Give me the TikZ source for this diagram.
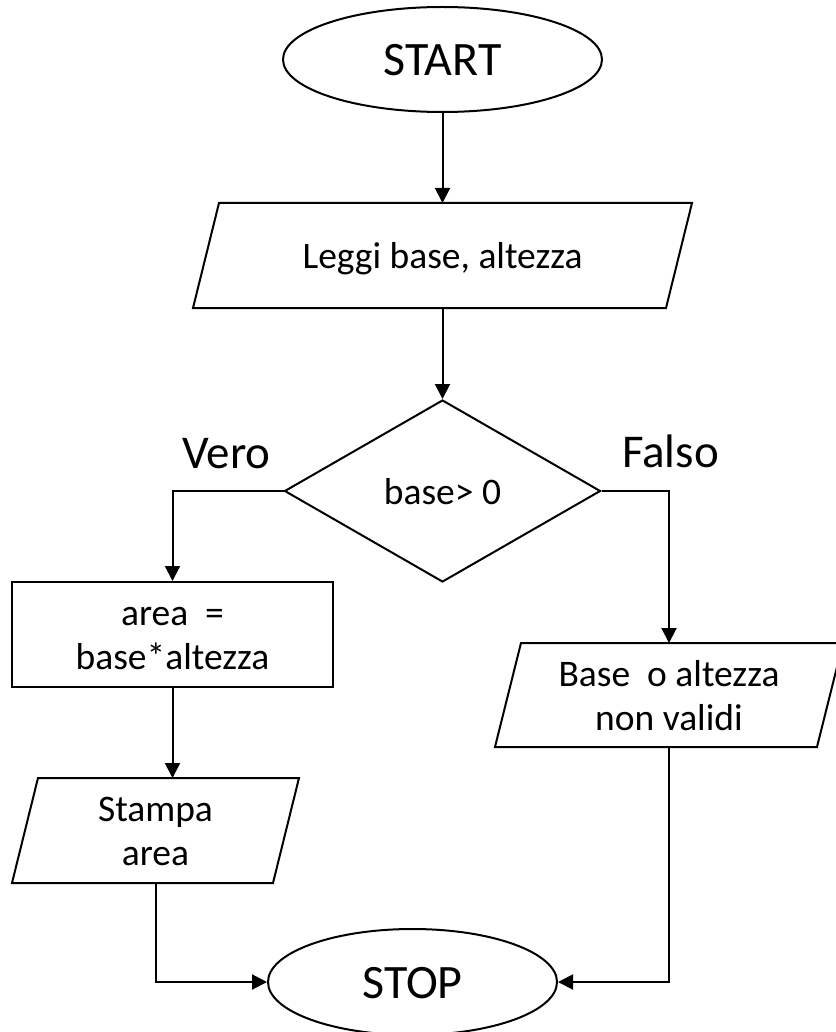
\documentclass[tikz,border=0pt]{standalone}
\usepackage{fontspec}
\setmainfont{Carlito}
\usetikzlibrary{shapes.geometric,arrows.meta}
\begin{document}
\begin{tikzpicture}[x=1pt,y=-1pt,
  lw/.style={line width=2pt},
  arr/.style={lw, -{Triangle[length=15pt,width=15pt]}},
  big/.style={font=\fontsize{48}{56}\selectfont, text height=33pt, text depth=0pt, inner sep=0pt},
  small/.style={font=\fontsize{37.5}{44}\selectfont, text height=26pt, text depth=0pt, inner sep=0pt, align=center},
  two/.style={text height=70pt, text depth=0pt},
  term/.style={big, ellipse, draw, lw},
  proc/.style={small, rectangle, draw, lw},
  decis/.style={small, diamond, draw, lw, aspect=1.736},
  io/.style={small, rectangle, outer sep=0pt},
  lbl/.style={font=\fontsize{47}{54}\selectfont, inner sep=0pt, anchor=base}
]
\useasboundingbox (0,0) rectangle (835,1032);

\node[term, minimum width=319pt, minimum height=105pt] (start) at (442.5,59.5) {START};
\node[io, minimum width=499pt, minimum height=105pt] (leggi) at (442.5,255.5) {Leggi base, altezza};
\node[decis, minimum width=316pt, minimum height=182pt] (cond) at (442.5,491) {base> 0};
\node[proc, two, minimum width=321pt, minimum height=105pt] (area) at (172.5,634.5) {area\ \ =\\base*altezza};
\node[io, two, minimum width=287pt, minimum height=105pt] (stampa) at (155.5,830.5) {Stampa\\area};
\node[io, two, minimum width=348pt, minimum height=104pt] (err) at (669,695) {Base\ \ o altezza\\non validi};
\node[term, minimum width=289pt, minimum height=106pt] (stop) at (412.5,982) {STOP};

\draw[lw] ([xshift=26pt]leggi.north west) -- (leggi.north east) -- ([xshift=-26pt]leggi.south east) -- (leggi.south west) -- cycle;
\draw[lw] ([xshift=26pt]stampa.north west) -- (stampa.north east) -- ([xshift=-26pt]stampa.south east) -- (stampa.south west) -- cycle;
\draw[lw] ([xshift=26pt]err.north west) -- (err.north east) -- ([xshift=-26pt]err.south east) -- (err.south west) -- cycle;

\node[lbl] (vero) at (226.5,468) {Vero};
\node[lbl] (falso) at (670.5,467) {Falso};

\draw[arr] (start.south) -- (leggi.north);
\draw[arr] (leggi.south) -- (cond.north);
\draw[arr] (cond.west) -| (area.north);
\draw[arr] (cond.east) -| (err.north);
\draw[arr] (area.south) -- (area.south |- stampa.north);
\draw[arr] (stampa.south) |- (stop.west);
\draw[arr] (err.south) |- (stop.east);
\end{tikzpicture}
\end{document}
